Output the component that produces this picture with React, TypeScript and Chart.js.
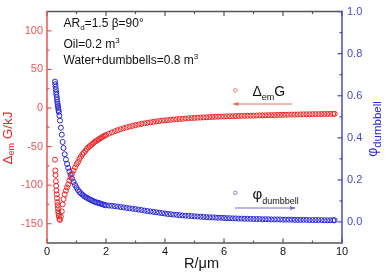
import { useEffect, useRef } from "react";
import { Chart, registerables } from "chart.js";

Chart.register(...registerables);

// Sphere radius R (µm)
const radius = [
  0.27, 0.28, 0.29, 0.3, 0.31, 0.32, 0.33, 0.34, 0.35, 0.36,
  0.37, 0.38, 0.39, 0.4, 0.42, 0.44, 0.47, 0.5, 0.53, 0.56,
  0.6, 0.64, 0.68, 0.72, 0.76, 0.8, 0.85, 0.9, 0.95, 1.0,
  1.05, 1.1, 1.15, 1.2, 1.25, 1.3, 1.35, 1.4, 1.45, 1.5,
  1.55, 1.6, 1.65, 1.7, 1.75, 1.8, 1.85, 1.9, 1.95, 2.0,
  2.1, 2.2, 2.3, 2.4, 2.5, 2.6, 2.7, 2.8, 2.9, 3.0,
  3.1, 3.2, 3.3, 3.4, 3.5, 3.6, 3.7, 3.8, 3.9, 4.0,
  4.1, 4.2, 4.3, 4.4, 4.5, 4.6, 4.7, 4.8, 4.9, 5.0,
  5.1, 5.2, 5.3, 5.4, 5.5, 5.6, 5.7, 5.8, 5.9, 6.0,
  6.1, 6.2, 6.3, 6.4, 6.5, 6.6, 6.7, 6.8, 6.9, 7.0,
  7.1, 7.2, 7.3, 7.4, 7.5, 7.6, 7.7, 7.8, 7.9, 8.0,
  8.1, 8.2, 8.3, 8.4, 8.5, 8.6, 8.7, 8.8, 8.9, 9.0,
  9.1, 9.2, 9.3, 9.4, 9.5, 9.6, 9.7, 9.75,
];

// Δem G (kJ), left axis
const deltaG = [
  -67, -81, -87, -95, -101, -107, -112, -117, -122, -126,
  -130, -134, -137, -140, -144, -145, -141, -134, -125, -118,
  -112, -107, -103, -99, -94, -90, -85, -81, -77, -73,
  -70, -66, -63, -60, -58, -55.5, -53, -51, -49.5, -48,
  -46, -44.5, -43, -42, -40.5, -39.5, -38, -37, -36, -35,
  -33.2, -31.6, -30.1, -28.7, -27.4, -26.2, -25.1, -24.1, -23.1, -22.2,
  -21.4, -20.6, -19.9, -19.2, -18.6, -18.0, -17.4, -16.9, -16.4, -16.0,
  -15.6, -15.2, -14.8, -14.5, -14.2, -13.9, -13.6, -13.3, -13.0, -12.8,
  -12.6, -12.4, -12.2, -12.0, -11.8, -11.6, -11.4, -11.3, -11.1, -11.0,
  -10.8, -10.7, -10.6, -10.4, -10.3, -10.2, -10.1, -10.0, -9.9, -9.8,
  -9.7, -9.6, -9.5, -9.4, -9.3, -9.2, -9.1, -9.0, -8.9, -8.8,
  -8.7, -8.6, -8.5, -8.5, -8.4, -8.3, -8.2, -8.1, -8.1, -8.0,
  -7.9, -7.9, -7.8, -7.7, -7.7, -7.6, -7.6, -7.5,
];

// φ dumbbell, right axis
const phi = [
  0.667, 0.655, 0.643, 0.63, 0.617, 0.605, 0.593, 0.582, 0.57, 0.56,
  0.551, 0.542, 0.532, 0.523, 0.505, 0.482, 0.448, 0.415, 0.38, 0.352,
  0.322, 0.297, 0.276, 0.257, 0.24, 0.224, 0.206, 0.19, 0.176, 0.164,
  0.152, 0.143, 0.136, 0.13, 0.124, 0.119, 0.115, 0.111, 0.107, 0.104,
  0.1, 0.097, 0.094, 0.092, 0.09, 0.088, 0.085, 0.083, 0.081, 0.079,
  0.078, 0.077, 0.075, 0.073, 0.071, 0.069, 0.067, 0.065, 0.063, 0.061,
  0.059, 0.057, 0.054, 0.052, 0.05, 0.048, 0.046, 0.044, 0.042, 0.04,
  0.038, 0.037, 0.035, 0.034, 0.032, 0.031, 0.03, 0.029, 0.028, 0.027,
  0.026, 0.025, 0.024, 0.023, 0.022, 0.022, 0.021, 0.02, 0.02, 0.019,
  0.018, 0.018, 0.017, 0.017, 0.016, 0.016, 0.015, 0.015, 0.015, 0.014,
  0.014, 0.014, 0.013, 0.013, 0.013, 0.012, 0.012, 0.012, 0.012, 0.011,
  0.011, 0.011, 0.011, 0.01, 0.01, 0.01, 0.01, 0.01, 0.009, 0.009,
  0.009, 0.009, 0.009, 0.008, 0.008, 0.008, 0.008, 0.008,
];

const xTicks = [0, 2, 4, 6, 8, 10];
const xMinorTicks = [1, 3, 5, 7, 9];
const gTicks = [-150, -100, -50, 0, 50, 100];
const gMinorTicks = [-125, -75, -25, 25, 75];
const phiTicks = [0, 0.2, 0.4, 0.6, 0.8, 1.0];
const phiMinorTicks = [0.1, 0.3, 0.5, 0.7, 0.9];

const RED = "#ec2424";
const RED_AXIS = "#e65656";
const RED_SOFT = "#e27070";
const BLUE = "#2626d4";
const BLUE_AXIS = "#4848c6";
const BLUE_SOFT = "#7373cf";
const FRAME = "#555555";
const INK = "#111111";
const FONT = "'Liberation Sans', Arial, sans-serif";
const MAJOR = 4.5;
const MINOR = 2.5;

type Part = { text: string; size: number; dy?: number };

function richWidth(ctx: CanvasRenderingContext2D, parts: Part[]) {
  let w = 0;
  for (const p of parts) {
    ctx.font = `${p.size}px ${FONT}`;
    w += ctx.measureText(p.text).width;
  }
  return w;
}

function drawRich(
  ctx: CanvasRenderingContext2D,
  parts: Part[],
  x: number,
  y: number,
  color: string
) {
  ctx.fillStyle = color;
  ctx.textAlign = "left";
  ctx.textBaseline = "alphabetic";
  let cx = x;
  for (const p of parts) {
    ctx.font = `${p.size}px ${FONT}`;
    ctx.fillText(p.text, cx, y + (p.dy || 0));
    cx += ctx.measureText(p.text).width;
  }
}

const decorPlugin = {
  id: "decor",
  afterDraw(chart: any) {
    const ctx: CanvasRenderingContext2D = chart.ctx;
    const { left, right, top, bottom } = chart.chartArea;
    const xs = chart.scales.x;
    const gs = chart.scales.y;
    const ps = chart.scales.y1;
    ctx.save();

    const seg = (x1: number, y1: number, x2: number, y2: number, color: string, w = 1.2) => {
      ctx.strokeStyle = color;
      ctx.lineWidth = w;
      ctx.beginPath();
      ctx.moveTo(x1, y1);
      ctx.lineTo(x2, y2);
      ctx.stroke();
    };

    // inward tick marks
    xTicks.forEach((v) => {
      const p = xs.getPixelForValue(v);
      seg(p, bottom, p, bottom - MAJOR, FRAME);
      seg(p, top, p, top + MAJOR, FRAME);
    });
    xMinorTicks.forEach((v) => {
      const p = xs.getPixelForValue(v);
      seg(p, bottom, p, bottom - MINOR, FRAME);
      seg(p, top, p, top + MINOR, FRAME);
    });
    gTicks.forEach((v) => {
      const p = gs.getPixelForValue(v);
      seg(left, p, left + MAJOR, p, RED_AXIS);
    });
    gMinorTicks.forEach((v) => {
      const p = gs.getPixelForValue(v);
      seg(left, p, left + MINOR, p, RED_AXIS);
    });
    phiTicks.forEach((v) => {
      const p = ps.getPixelForValue(v);
      seg(right, p, right - MAJOR, p, BLUE_AXIS);
    });
    phiMinorTicks.forEach((v) => {
      const p = ps.getPixelForValue(v);
      seg(right, p, right - MINOR, p, BLUE_AXIS);
    });

    // frame
    seg(left, top, right, top, FRAME, 1.5);
    seg(left, bottom, right, bottom, FRAME, 1.5);
    seg(left, top - 0.75, left, bottom + 0.75, RED_AXIS, 1.5);
    seg(right, top - 0.75, right, bottom + 0.75, BLUE_AXIS, 1.5);

    // axis titles
    const leftTitle: Part[] = [
      { text: "Δ", size: 13.5 },
      { text: "em", size: 9, dy: 2 },
      { text: " G/kJ", size: 13.5 },
    ];
    const lw = richWidth(ctx, leftTitle);
    ctx.save();
    ctx.translate(12, 138);
    ctx.rotate(-Math.PI / 2);
    drawRich(ctx, leftTitle, -lw / 2, 0, RED);
    ctx.restore();

    const rightTitle: Part[] = [
      { text: "φ", size: 14 },
      { text: "dumbbell", size: 11.5, dy: 4 },
    ];
    const rw = richWidth(ctx, rightTitle);
    ctx.save();
    ctx.translate(377, 129);
    ctx.rotate(-Math.PI / 2);
    drawRich(ctx, rightTitle, -rw / 2, 0, BLUE);
    ctx.restore();

    ctx.font = `14.5px ${FONT}`;
    ctx.fillStyle = INK;
    ctx.textAlign = "center";
    ctx.textBaseline = "alphabetic";
    ctx.fillText("R/μm", 201.5, 267.5);

    // condition notes
    drawRich(ctx, [
      { text: "AR", size: 12 },
      { text: "d", size: 8, dy: 3 },
      { text: "=1.5 β=90°", size: 12 },
    ], 63.5, 27, INK);
    drawRich(ctx, [
      { text: "Oil=0.2 m", size: 12 },
      { text: "3", size: 8, dy: -5 },
    ], 63.5, 47.5, INK);
    drawRich(ctx, [
      { text: "Water+dumbbells=0.8 m", size: 12 },
      { text: "3", size: 8, dy: -5 },
    ], 63.5, 64, INK);

    // series keys with direction arrows
    const ring = (x: number, y: number, color: string) => {
      ctx.strokeStyle = color;
      ctx.lineWidth = 0.9;
      ctx.beginPath();
      ctx.arc(x, y, 1.8, 0, Math.PI * 2);
      ctx.stroke();
    };
    const arrow = (x1: number, x2: number, y: number, headLeft: boolean, color: string) => {
      seg(x1, y, x2, y, color, 1);
      ctx.fillStyle = color;
      ctx.beginPath();
      if (headLeft) {
        ctx.moveTo(x1 - 1, y);
        ctx.lineTo(x1 + 5, y - 2);
        ctx.lineTo(x1 + 5, y + 2);
      } else {
        ctx.moveTo(x2 + 1, y);
        ctx.lineTo(x2 - 5, y - 2);
        ctx.lineTo(x2 - 5, y + 2);
      }
      ctx.closePath();
      ctx.fill();
    };

    ring(235.3, 90.3, RED_SOFT);
    drawRich(ctx, [
      { text: "Δ", size: 14 },
      { text: "em", size: 9, dy: 4 },
      { text: "G", size: 14 },
    ], 252.5, 96, INK);
    arrow(233.5, 292, 104, true, RED_SOFT);

    ring(235.3, 192.8, BLUE_SOFT);
    drawRich(ctx, [
      { text: "φ", size: 15 },
      { text: "dumbbell", size: 9, dy: 5.5 },
    ], 252.5, 198.5, INK);
    arrow(235, 295, 208, false, BLUE_SOFT);

    ctx.restore();
  },
};

export default function App() {
  const canvasRef = useRef<HTMLCanvasElement | null>(null);

  useEffect(() => {
    document.body.style.margin = "0";
    const canvas = canvasRef.current;
    if (!canvas) return;

    const tickFont = { family: FONT, size: 11 };

    const chart = new Chart(canvas, {
      type: "scatter",
      data: {
        datasets: [
          {
            label: "ΔemG",
            data: radius.map((r, i) => ({ x: r, y: deltaG[i] })),
            yAxisID: "y",
            pointStyle: "circle",
            pointRadius: 2.5,
            pointBorderWidth: 1,
            pointBorderColor: RED,
            pointBackgroundColor: "rgba(0,0,0,0)",
            borderColor: RED,
            backgroundColor: "rgba(0,0,0,0)",
          },
          {
            label: "φdumbbell",
            data: radius.map((r, i) => ({ x: r, y: phi[i] })),
            yAxisID: "y1",
            pointStyle: "circle",
            pointRadius: 2.5,
            pointBorderWidth: 1,
            pointBorderColor: BLUE,
            pointBackgroundColor: "rgba(0,0,0,0)",
            borderColor: BLUE,
            backgroundColor: "rgba(0,0,0,0)",
          },
        ],
      },
      options: {
        responsive: false,
        animation: false,
        events: [],
        layout: { padding: { top: 7, left: 0, right: 0, bottom: 0 } },
        plugins: {
          legend: { display: false },
          tooltip: { enabled: false },
          title: { display: false },
        },
        scales: {
          x: {
            type: "linear",
            position: "bottom",
            min: 0,
            max: 10,
            grid: { display: false, drawTicks: false },
            border: { display: false },
            ticks: {
              color: INK,
              font: tickFont,
              padding: 2,
              maxRotation: 0,
              callback: (v: any) => String(v),
            },
            afterBuildTicks: (s: any) => {
              s.ticks = xTicks.map((v) => ({ value: v }));
            },
            afterFit: (s: any) => {
              s.height = 30;
            },
          },
          y: {
            type: "linear",
            position: "left",
            min: -175,
            max: 125,
            grid: { display: false, drawTicks: false },
            border: { display: false },
            ticks: {
              color: RED_AXIS,
              font: tickFont,
              padding: 4,
              callback: (v: any) => String(v),
            },
            afterBuildTicks: (s: any) => {
              s.ticks = gTicks.map((v) => ({ value: v }));
            },
            afterFit: (s: any) => {
              s.width = 47;
            },
          },
          y1: {
            type: "linear",
            position: "right",
            min: -0.1,
            max: 1.0,
            grid: { display: false, drawTicks: false },
            border: { display: false },
            ticks: {
              color: BLUE_AXIS,
              font: tickFont,
              padding: 5,
              callback: (v: any) => Number(v).toFixed(1),
            },
            afterBuildTicks: (s: any) => {
              s.ticks = phiTicks.map((v) => ({ value: v }));
            },
            afterFit: (s: any) => {
              s.width = 47;
            },
          },
        },
      },
      plugins: [decorPlugin],
    } as any);

    return () => {
      chart.destroy();
    };
  }, []);

  return (
    <div style={{ width: 389, height: 273, background: "#ffffff" }}>
      <canvas
        ref={canvasRef}
        width={389}
        height={273}
        style={{ display: "block", width: 389, height: 273 }}
      />
    </div>
  );
}
